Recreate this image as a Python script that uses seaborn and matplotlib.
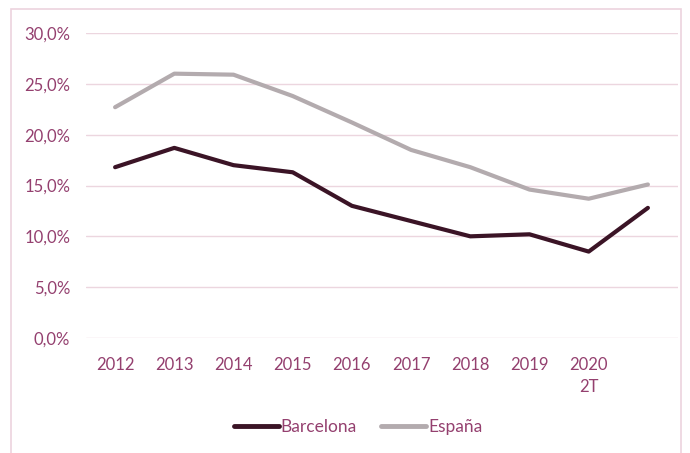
import matplotlib
matplotlib.use("Agg")
import matplotlib.pyplot as plt
import seaborn as sns
import pandas as pd
from matplotlib.patches import Rectangle
from matplotlib.ticker import FuncFormatter
from matplotlib.lines import Line2D

categories = ["2012", "2013", "2014", "2015", "2016", "2017", "2018", "2019", "2020\n2T", ""]
barcelona = [16.8, 18.7, 17.0, 16.3, 13.0, 11.5, 10.0, 10.2, 8.5, 12.8]
espana = [22.7, 26.0, 25.9, 23.8, 21.2, 18.5, 16.8, 14.6, 13.7, 15.1]
series_names = ["Barcelona", "España"]
yticks = [0, 5, 10, 15, 20, 25, 30]

text_color = "#94406f"
grid_color = "#ecd6df"
colors = {"Barcelona": "#3b1426", "España": "#b3abae"}

sns.set_theme(style="white")
plt.rcParams["font.family"] = ["Lato", "DejaVu Sans"]

n = len(categories)
df = pd.DataFrame({
    "x": list(range(n)) * 2,
    "value": barcelona + espana,
    "serie": [series_names[0]] * n + [series_names[1]] * n,
})

fig = plt.figure(figsize=(6.9, 4.53), dpi=100)
W, H = 690, 453
ax = fig.add_axes([85.5 / W, 1 - 338 / H, (677.5 - 85.5) / W, (338 - 33) / H])

sns.lineplot(data=df, x="x", y="value", hue="serie", palette=colors,
             linewidth=3, ax=ax, legend=False, sort=False)

ax.set_xlim(-0.5, n - 0.5)
ax.set_ylim(0, 30)
ax.set_yticks(yticks)
ax.yaxis.set_major_formatter(FuncFormatter(lambda v, p: f"{v:.1f}%".replace(".", ",")))
ax.set_xticks(range(n))
ax.set_xticklabels(categories, linespacing=1.45)
ax.tick_params(axis="both", colors=text_color, labelsize=12, length=0)
ax.tick_params(axis="y", pad=11)
ax.tick_params(axis="x", pad=14)
for lab in ax.get_xticklabels() + ax.get_yticklabels():
    lab.set_color(text_color)
ax.grid(axis="y", color=grid_color, linewidth=1)
ax.set_axisbelow(True)
for s in ax.spines.values():
    s.set_visible(False)
ax.set_xlabel("")
ax.set_ylabel("")

handles = [Line2D([0], [0], color=colors[s], lw=3.5) for s in series_names]
leg = fig.legend(handles, series_names, loc="center", bbox_to_anchor=(358 / W, 1 - 427 / H),
                 ncol=2, frameon=False, fontsize=12.5, handlelength=2.6, handletextpad=0.1,
                 columnspacing=1.4, labelcolor=text_color)

fig.patches.append(Rectangle((11 / W, -0.05), (681 - 11) / W, 1 - 9 / H + 0.05,
                             transform=fig.transFigure, fill=False,
                             edgecolor="#ecd3de", linewidth=1.2))

fig.savefig("out.png", dpi=100)
